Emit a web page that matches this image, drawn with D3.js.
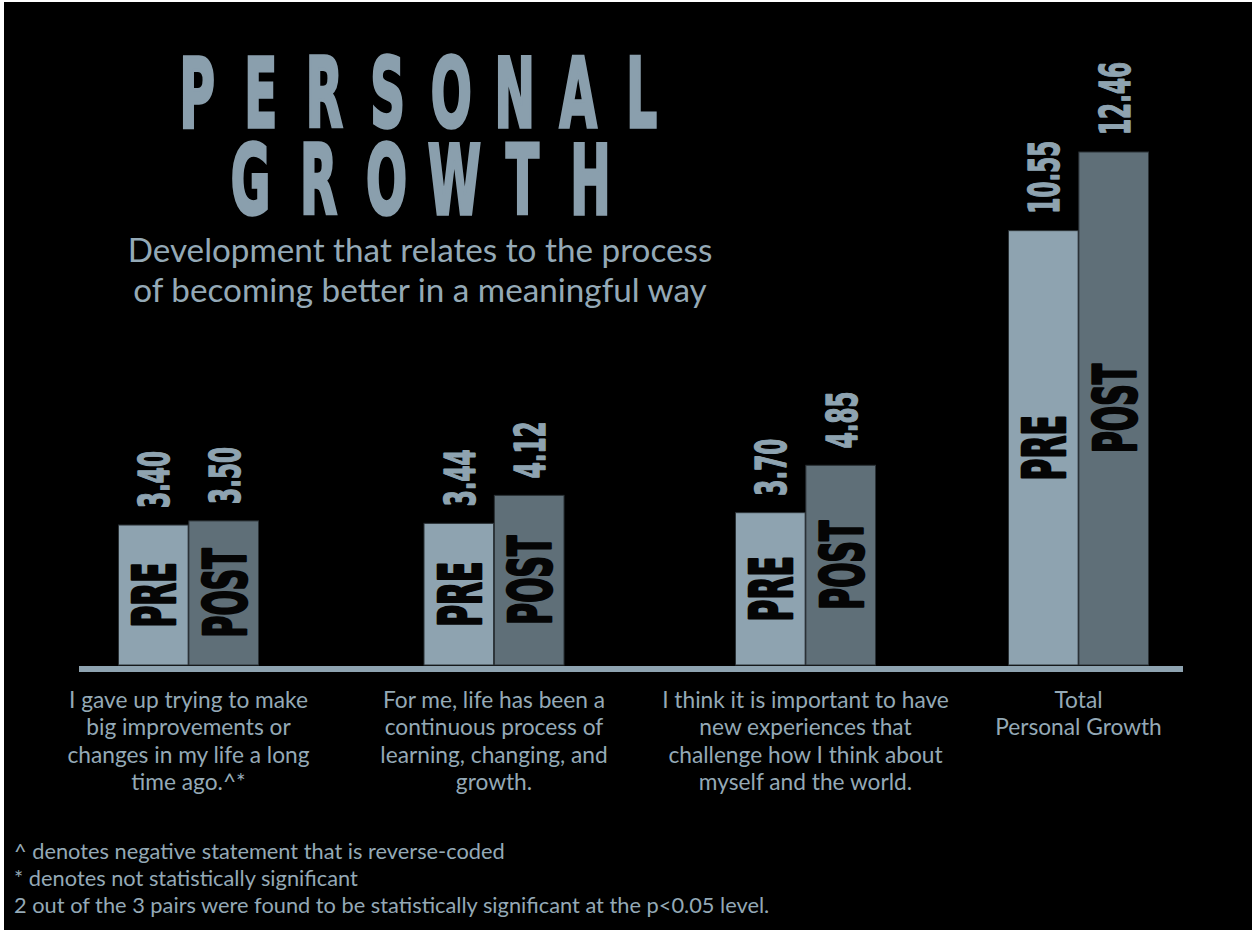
<!DOCTYPE html>
<html><head><meta charset="utf-8">
<script src="https://cdn.jsdelivr.net/npm/d3@7"></script>
<style>html,body{margin:0;padding:0;background:#fff;} svg{display:block;}</style>
</head><body><svg id="c" width="1252" height="930"></svg>
<script>
// ---------- DATA ----------
const categories = ["q1", "q2", "q3", "total"];
const categoryLabels = [
  ["I gave up trying to make", "big improvements or", "changes in my life a long", "time ago.^*"],
  ["For me, life has been a", "continuous process of", "learning, changing, and", "growth."],
  ["I think it is important to have", "new experiences that", "challenge how I think about", "myself and the world."],
  ["Total", "Personal Growth"]
];
const seriesNames = ["PRE", "POST"];
const preValues = [3.40, 3.44, 3.70, 10.55];
const postValues = [3.50, 4.12, 4.85, 12.46];
const titleLines = ["PERSONAL", "GROWTH"];
const subtitleLines = ["Development that relates to the process", "of becoming better in a meaningful way"];
const footnotes = [
  "^ denotes negative statement that is reverse-coded",
  "* denotes not statistically significant",
  "2 out of the 3 pairs were found to be statistically significant at the p<0.05 level."
];

// ---------- STYLE / LAYOUT ----------
const W = 1252, H = 930;
const BG = "#000000";
const PRE_C = "#8ea3b0", POST_C = "#5f6f78", TXT = "#94a9b6", TITLE_C = "#8a9fad";
const COND = "'Liberation Sans Narrow','Arial Narrow','DejaVu Sans Condensed','Roboto Condensed',sans-serif";
const BODY = "Lato,'Noto Sans',sans-serif";
const baseY = 665, topY = 152;
const groupCenters = [188.5, 494, 805.5, 1078.5];

const svg = d3.select("#c");
svg.append("rect").attr("x", 4).attr("y", 2).attr("width", W - 4).attr("height", H - 2).attr("fill", BG);

const x0 = d3.scaleOrdinal().domain(categories).range(groupCenters);
const x1 = d3.scaleBand().domain(seriesNames).range([-70, 70]).paddingInner(0.01);
const y = d3.scaleLinear().domain([0, d3.max(postValues)]).range([baseY, topY]);

const rows = categories.map((c, i) => ({c, vals: [
  {s: "PRE", v: preValues[i]}, {s: "POST", v: postValues[i]}]}));
const flat = rows.flatMap(r => r.vals.map(d => ({c: r.c, s: d.s, v: d.v})));
const colorOf = d3.scaleOrdinal().domain(seriesNames).range([PRE_C, POST_C]);

function measure(txt, attrs) {
  const t = svg.append("text").text(txt);
  Object.entries(attrs).forEach(([k, v]) => t.attr(k, v));
  const w = t.node().getComputedTextLength();
  t.remove();
  return w;
}

// axis baseline
svg.append("rect").attr("x", 79).attr("y", baseY + 1).attr("width", 1183 - 79).attr("height", 6).attr("fill", PRE_C);

// bars
svg.append("g").selectAll("rect").data(flat).join("rect")
  .attr("x", d => x0(d.c) + x1(d.s))
  .attr("y", d => y(d.v))
  .attr("width", x1.bandwidth())
  .attr("height", d => baseY - y(d.v))
  .attr("fill", d => colorOf(d.s))
  .attr("stroke", "#2b3236").attr("stroke-width", 1);

// value labels (rotated)
const valAttrs = {"font-family": COND, "font-weight": "bold", "font-size": 43};
const valSx = 57 / measure("3.40", valAttrs);
const fmt = d3.format(".2f");
svg.append("g").selectAll("text").data(flat).join("text")
  .attr("font-family", COND).attr("font-weight", "bold").attr("font-size", 43)
  .attr("fill", PRE_C).attr("stroke", PRE_C).attr("stroke-width", 1.4).attr("stroke-linejoin", "round")
  .attr("text-anchor", "start")
  .attr("transform", d => `translate(${x0(d.c) + x1(d.s) + x1.bandwidth() / 2 + 16},${y(d.v) - 17}) rotate(-90) scale(${valSx},1)`)
  .text(d => fmt(d.v));

// series labels inside bars
const serAttrs = {"font-family": COND, "font-weight": "bold", "font-size": 58};
const serSx = 89 / measure("POST", serAttrs);
svg.append("g").selectAll("text").data(flat).join("text")
  .attr("font-family", COND).attr("font-weight", "bold").attr("font-size", 58)
  .attr("fill", "#050505").attr("stroke", "#050505").attr("stroke-width", 2.6).attr("stroke-linejoin", "round")
  .attr("text-anchor", "middle")
  .attr("transform", d => `translate(${x0(d.c) + x1(d.s) + x1.bandwidth() / 2 + 22},${(y(d.v) + baseY) / 2}) rotate(-90) scale(${serSx},1)`)
  .text(d => d.s);

// category labels
const labAttrs = {"font-family": BODY, "font-size": 19};
const labFs = 19 * 239 / measure(categoryLabels[0][0], labAttrs);
const lg = svg.append("g").selectAll("text").data(categories).join("text")
  .attr("font-family", BODY).attr("font-size", labFs).attr("fill", TXT)
  .attr("text-anchor", "middle");
lg.each(function(c, i) {
  d3.select(this).selectAll("tspan").data(categoryLabels[i]).join("tspan")
    .attr("x", x0(c)).attr("y", (d, j) => 708 + j * 27.4).text(d => d);
});

// title
const titFs = 97;
const titAttrs = {"font-family": COND, "font-weight": "bold", "font-size": titFs};
const titSx = 290 / measure("PERSONAL", titAttrs);
const titleSpec = [{line: titleLines[0], cx: 419.5, pitch: 63.5, base: 126.5}, {line: titleLines[1], cx: 420.5, pitch: 68, base: 213.5}];
titleSpec.forEach(ts => {
  const letters = ts.line.split("");
  const n = letters.length;
  svg.append("g").selectAll("text").data(letters).join("text")
    .attr("font-family", COND).attr("font-weight", "bold").attr("font-size", titFs)
    .attr("fill", TITLE_C).attr("stroke", TITLE_C).attr("stroke-width", 3.5).attr("stroke-linejoin", "miter")
    .attr("text-anchor", "middle")
    .attr("transform", (d, i) => `translate(${ts.cx + (i - (n - 1) / 2) * ts.pitch},${ts.base}) scale(${titSx},1)`)
    .text(d => d);
});

// subtitle
const subAttrs = {"font-family": BODY, "font-size": 28};
const subFs = 28 * 585 / measure(subtitleLines[0], subAttrs);
svg.append("g").selectAll("text").data(subtitleLines).join("text")
  .attr("font-family", BODY).attr("font-size", subFs).attr("fill", TXT)
  .attr("text-anchor", "middle").attr("x", 420).attr("y", (d, i) => 262 + i * 40)
  .text(d => d);

// footnotes
const fnAttrs = {"font-family": BODY, "font-size": 19};
const fnFs = 19 * 756 / measure(footnotes[2], fnAttrs);
svg.append("g").selectAll("text").data(footnotes).join("text")
  .attr("font-family", BODY).attr("font-size", fnFs).attr("fill", TXT)
  .attr("x", 14).attr("y", (d, i) => 859 + i * 27)
  .text(d => d);
</script>
</body></html>
